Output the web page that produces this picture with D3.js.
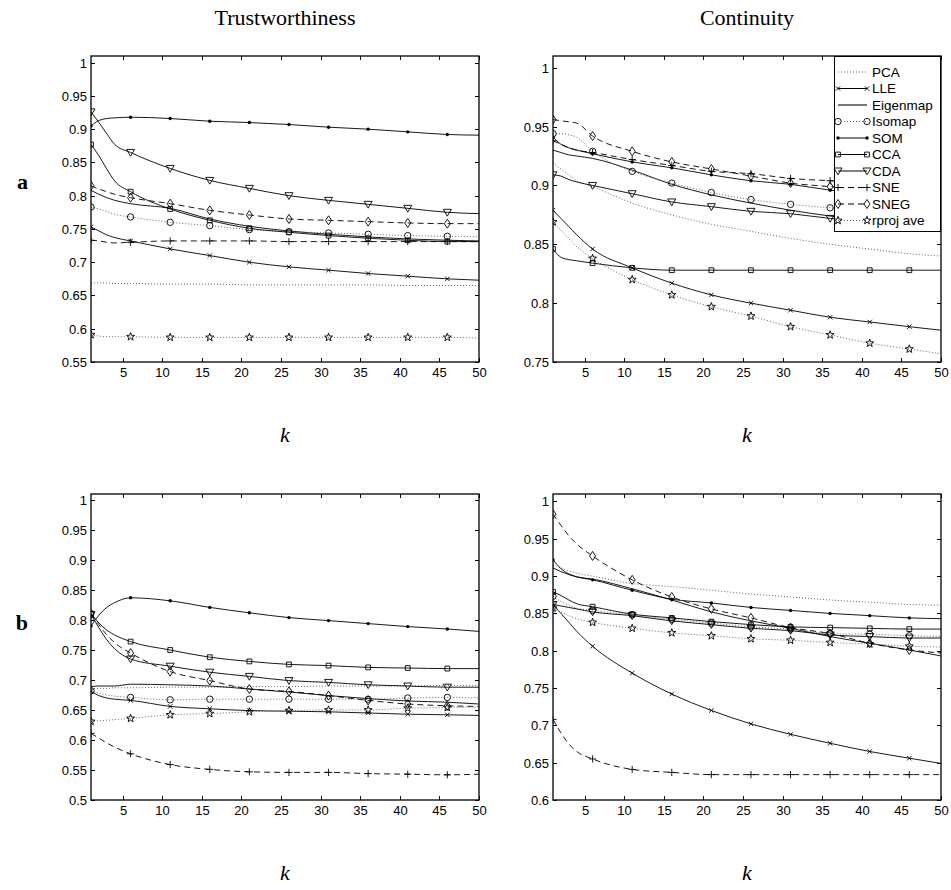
<!DOCTYPE html>
<meta charset="utf-8">
<style>
body { margin: 0; background: #fff; }
.tick-label { font-family: "Liberation Sans", Arial, sans-serif; font-size: 13px; fill: #000; }
.legend-text { font-family: "Liberation Sans", Arial, sans-serif; font-size: 13.5px; fill: #000; }
.title { font-family: "Liberation Serif", "DejaVu Serif", serif; font-size: 22px; fill: #000; }
</style>
<body>
<script src="https://d3js.org/d3.v7.min.js"></script>
<script>

//
// Data
//

var methods = ["PCA", "LLE", "Eigenmap", "Isomap", "SOM", "CCA", "CDA", "SNE", "SNEG", "rproj ave"];
var kValues = [1, 2, 3, 4, 6, 11, 16, 21, 26, 31, 36, 41, 46, 50];
var markerK = [1, 6, 11, 16, 21, 26, 31, 36, 41, 46];
var xTicks = [5, 10, 15, 20, 25, 30, 35, 40, 45, 50];

// rows follow the order of methods
var trustA = [
  [0.669, 0.669, 0.669, 0.668, 0.668, 0.667, 0.667, 0.666, 0.666, 0.666, 0.666, 0.665, 0.665, 0.665],
  [0.753, 0.747, 0.741, 0.737, 0.732, 0.720, 0.710, 0.700, 0.693, 0.688, 0.683, 0.679, 0.675, 0.673],
  [0.808, 0.802, 0.797, 0.793, 0.788, 0.781, 0.765, 0.754, 0.747, 0.742, 0.738, 0.735, 0.733, 0.732],
  [0.783, 0.780, 0.776, 0.772, 0.768, 0.760, 0.755, 0.749, 0.746, 0.744, 0.742, 0.740, 0.739, 0.738],
  [0.905, 0.913, 0.916, 0.917, 0.918, 0.916, 0.912, 0.910, 0.907, 0.903, 0.900, 0.896, 0.892, 0.891],
  [0.877, 0.860, 0.840, 0.822, 0.806, 0.780, 0.763, 0.751, 0.745, 0.740, 0.736, 0.733, 0.731, 0.731],
  [0.926, 0.910, 0.893, 0.877, 0.865, 0.841, 0.823, 0.811, 0.800, 0.793, 0.787, 0.781, 0.775, 0.773],
  [0.733, 0.732, 0.730, 0.729, 0.730, 0.732, 0.732, 0.732, 0.731, 0.731, 0.731, 0.731, 0.731, 0.731],
  [0.815, 0.810, 0.806, 0.802, 0.797, 0.788, 0.778, 0.771, 0.765, 0.763, 0.761, 0.759, 0.758, 0.758],
  [0.591, 0.589, 0.588, 0.588, 0.588, 0.587, 0.587, 0.587, 0.587, 0.587, 0.587, 0.587, 0.587, 0.586]
];

var contA = [
  [0.919, 0.914, 0.909, 0.904, 0.899, 0.885, 0.875, 0.867, 0.861, 0.855, 0.850, 0.846, 0.842, 0.840],
  [0.879, 0.872, 0.865, 0.858, 0.846, 0.830, 0.817, 0.807, 0.800, 0.794, 0.788, 0.784, 0.780, 0.777],
  [0.930, 0.928, 0.926, 0.925, 0.923, 0.913, 0.901, 0.892, 0.885, 0.879, 0.874, 0.870, 0.866, 0.864],
  [0.944, 0.944, 0.943, 0.941, 0.929, 0.912, 0.902, 0.894, 0.888, 0.884, 0.881, 0.878, 0.876, 0.875],
  [0.941, 0.935, 0.932, 0.930, 0.927, 0.920, 0.915, 0.909, 0.904, 0.901, 0.896, 0.893, 0.890, 0.888],
  [0.846, 0.839, 0.837, 0.836, 0.834, 0.830, 0.828, 0.828, 0.828, 0.828, 0.828, 0.828, 0.828, 0.828],
  [0.909, 0.908, 0.905, 0.903, 0.900, 0.893, 0.886, 0.882, 0.878, 0.876, 0.872, 0.870, 0.868, 0.867],
  [0.938, 0.935, 0.932, 0.930, 0.928, 0.922, 0.917, 0.912, 0.910, 0.906, 0.904, 0.902, 0.900, 0.899],
  [0.956, 0.955, 0.954, 0.953, 0.942, 0.929, 0.920, 0.914, 0.908, 0.902, 0.899, 0.896, 0.894, 0.893],
  [0.869, 0.862, 0.855, 0.848, 0.838, 0.820, 0.807, 0.797, 0.789, 0.780, 0.773, 0.766, 0.761, 0.757]
];

var trustB = [
  [0.685, 0.686, 0.686, 0.687, 0.687, 0.688, 0.688, 0.689, 0.689, 0.690, 0.690, 0.690, 0.691, 0.691],
  [0.681, 0.674, 0.670, 0.668, 0.666, 0.656, 0.652, 0.649, 0.648, 0.647, 0.645, 0.643, 0.642, 0.641],
  [0.689, 0.690, 0.690, 0.690, 0.693, 0.692, 0.690, 0.685, 0.680, 0.674, 0.669, 0.665, 0.663, 0.660],
  [0.682, 0.678, 0.675, 0.673, 0.671, 0.667, 0.668, 0.668, 0.668, 0.668, 0.668, 0.670, 0.671, 0.670],
  [0.790, 0.808, 0.821, 0.829, 0.837, 0.832, 0.821, 0.812, 0.804, 0.799, 0.794, 0.789, 0.785, 0.781],
  [0.811, 0.795, 0.783, 0.775, 0.764, 0.750, 0.738, 0.731, 0.726, 0.724, 0.721, 0.720, 0.719, 0.719],
  [0.809, 0.787, 0.767, 0.752, 0.735, 0.723, 0.713, 0.706, 0.699, 0.696, 0.692, 0.690, 0.688, 0.688],
  [0.611, 0.603, 0.595, 0.588, 0.577, 0.559, 0.551, 0.547, 0.546, 0.546, 0.544, 0.543, 0.542, 0.543],
  [0.810, 0.792, 0.775, 0.762, 0.745, 0.714, 0.699, 0.685, 0.681, 0.674, 0.666, 0.660, 0.657, 0.656],
  [0.631, 0.632, 0.633, 0.634, 0.636, 0.642, 0.644, 0.647, 0.649, 0.650, 0.650, 0.653, 0.654, 0.655]
];

var contB = [
  [0.915, 0.911, 0.907, 0.904, 0.900, 0.890, 0.886, 0.881, 0.876, 0.872, 0.868, 0.865, 0.862, 0.861],
  [0.862, 0.850, 0.838, 0.826, 0.806, 0.770, 0.742, 0.720, 0.702, 0.688, 0.676, 0.665, 0.656, 0.649],
  [0.911, 0.906, 0.902, 0.899, 0.896, 0.883, 0.868, 0.852, 0.840, 0.830, 0.819, 0.810, 0.801, 0.793],
  [0.873, 0.866, 0.861, 0.857, 0.854, 0.848, 0.842, 0.837, 0.832, 0.829, 0.823, 0.822, 0.820, 0.819],
  [0.922, 0.910, 0.903, 0.899, 0.895, 0.881, 0.869, 0.864, 0.858, 0.854, 0.850, 0.847, 0.844, 0.843],
  [0.879, 0.874, 0.868, 0.863, 0.859, 0.849, 0.844, 0.839, 0.835, 0.832, 0.831, 0.830, 0.829, 0.829],
  [0.862, 0.860, 0.858, 0.856, 0.852, 0.847, 0.840, 0.835, 0.830, 0.827, 0.821, 0.819, 0.817, 0.817],
  [0.708, 0.690, 0.675, 0.665, 0.655, 0.641, 0.637, 0.634, 0.634, 0.634, 0.634, 0.634, 0.634, 0.634],
  [0.983, 0.968, 0.954, 0.943, 0.927, 0.895, 0.872, 0.856, 0.844, 0.831, 0.823, 0.810, 0.801, 0.797],
  [0.857, 0.852, 0.847, 0.843, 0.838, 0.830, 0.824, 0.820, 0.816, 0.814, 0.811, 0.809, 0.806, 0.805]
];

//
// Styles (per method, same order)
//

var lineDash = ["dot", "solid", "solid", "dot", "solid", "solid", "solid", "dash", "dash", "dot"];
var markerType = ["none", "x", "none", "circle", "dot", "square", "triangle", "plus", "diamond", "star"];

var dashArray = { solid: null, dot: "1,2", dash: "6,4" };
var strokeColor = { solid: "#000", dot: "#666", dash: "#000" };

function starPath(ro, ri) {
  var p = [];
  for (var i = 0; i < 10; i++) {
    var r = i % 2 ? ri : ro;
    var a = -Math.PI / 2 + i * Math.PI / 5;
    p.push([r * Math.cos(a), r * Math.sin(a)]);
  }
  return "M" + p.map(function(d) { return d[0].toFixed(2) + "," + d[1].toFixed(2); }).join("L") + "Z";
}

var markerPath = {
  x: "M-2.2,-2.2L2.2,2.2M-2.2,2.2L2.2,-2.2",
  square: "M-2.4,-2.4H2.4V2.4H-2.4Z",
  triangle: "M-4,-3L4,-3L0,3.8Z",
  plus: "M-3.6,0H3.6M0,-3.6V3.6",
  diamond: "M0,-4.5L3,0L0,4.5L-3,0Z",
  star: starPath(4.2, 1.7)
};

function drawMarker(g, type, x, y) {
  if (type === "none") return;
  if (type === "circle") {
    g.append("circle").attr("cx", x).attr("cy", y).attr("r", 3.2)
      .attr("fill", "none").attr("stroke", "#000").attr("stroke-width", 0.9);
  } else if (type === "dot") {
    g.append("circle").attr("cx", x).attr("cy", y).attr("r", 1.7).attr("fill", "#000");
  } else {
    g.append("path").attr("d", markerPath[type])
      .attr("transform", "translate(" + x + "," + y + ")")
      .attr("fill", "none").attr("stroke", "#000").attr("stroke-width", 0.9);
  }
}

//
// Layout
//

var cols = [[91, 479], [553, 941]];
var rows = [[56, 362], [494, 800]];

var panels = [
  { data: trustA, domain: [0.55, 1.01], col: 0, row: 0 },
  { data: contA,  domain: [0.75, 1.01], col: 1, row: 0 },
  { data: trustB, domain: [0.5, 1.01],  col: 0, row: 1 },
  { data: contB,  domain: [0.6, 1.01],  col: 1, row: 1 }
];

var svg = d3.select("body").append("svg")
    .attr("width", 951)
    .attr("height", 890);

panels.forEach(function(p, pi) {
  var x = d3.scaleLinear().domain([1, 50]).range(cols[p.col]);
  var y = d3.scaleLinear().domain(p.domain).range([rows[p.row][1], rows[p.row][0]]);
  var g = svg.append("g");

  var clipId = "clip" + pi;
  g.append("clipPath").attr("id", clipId).append("rect")
    .attr("x", x(1)).attr("y", y(p.domain[1]))
    .attr("width", x(50) - x(1)).attr("height", y(p.domain[0]) - y(p.domain[1]));

  var line = d3.line()
      .curve(d3.curveMonotoneX)
      .x(function(d) { return x(d[0]); })
      .y(function(d) { return y(d[1]); });

  var plot = g.append("g").attr("clip-path", "url(#" + clipId + ")");

  p.data.forEach(function(vals, mi) {
    var pts = kValues.map(function(k, i) { return [k, vals[i]]; });
    var style = lineDash[mi];
    plot.append("path")
      .attr("d", line(pts))
      .attr("fill", "none")
      .attr("stroke", strokeColor[style])
      .attr("stroke-width", style === "dot" ? 1 : 0.9)
      .attr("stroke-dasharray", dashArray[style]);
    pts.filter(function(d) { return markerK.indexOf(d[0]) >= 0; }).forEach(function(d) {
      drawMarker(plot, markerType[mi], x(d[0]), y(d[1]));
    });
  });

  // y ticks every 0.05
  var nStart = Math.round(p.domain[0] * 20), nEnd = Math.floor(p.domain[1] * 20 + 1e-9);
  var yTicks = d3.range(nStart, nEnd + 1).map(function(n) { return n / 20; });

  var axisG = g.append("g");
  var x0 = x(1), x1 = x(50), y0 = y(p.domain[0]), y1 = y(p.domain[1]);
  var tl = 4;

  yTicks.forEach(function(v) {
    var yy = Math.round(y(v)) + 0.5;
    axisG.append("line").attr("x1", x0).attr("x2", x0 + tl).attr("y1", yy).attr("y2", yy).attr("stroke", "#000");
    axisG.append("line").attr("x1", x1).attr("x2", x1 - tl).attr("y1", yy).attr("y2", yy).attr("stroke", "#000");
    axisG.append("text").attr("class", "tick-label")
      .attr("x", x0 - 4).attr("y", yy).attr("dy", "0.35em")
      .attr("text-anchor", "end")
      .text(String(+v.toFixed(2)));
  });

  xTicks.forEach(function(v) {
    var xx = Math.round(x(v)) + 0.5;
    axisG.append("line").attr("x1", xx).attr("x2", xx).attr("y1", y0).attr("y2", y0 - tl).attr("stroke", "#000");
    axisG.append("line").attr("x1", xx).attr("x2", xx).attr("y1", y1).attr("y2", y1 + tl).attr("stroke", "#000");
    axisG.append("text").attr("class", "tick-label")
      .attr("x", xx).attr("y", y0 + 15)
      .attr("text-anchor", "middle")
      .text(v);
  });

  axisG.append("rect")
    .attr("x", x0).attr("y", y1)
    .attr("width", x1 - x0).attr("height", y0 - y1)
    .attr("fill", "none").attr("stroke", "#000").attr("stroke-width", 1.3);

  // k label
  svg.append("text").attr("class", "title")
    .attr("x", (x0 + x1) / 2).attr("y", y0 + 80)
    .attr("text-anchor", "middle")
    .style("font-style", "italic")
    .text("k");
});

//
// Titles and row labels
//

svg.append("text").attr("class", "title")
  .attr("x", (cols[0][0] + cols[0][1]) / 2).attr("y", 25)
  .attr("text-anchor", "middle").text("Trustworthiness");
svg.append("text").attr("class", "title")
  .attr("x", (cols[1][0] + cols[1][1]) / 2).attr("y", 25)
  .attr("text-anchor", "middle").text("Continuity");

svg.append("text").attr("class", "title")
  .attr("x", 28).attr("y", 189).attr("text-anchor", "end")
  .style("font-weight", "bold").text("a");
svg.append("text").attr("class", "title")
  .attr("x", 28).attr("y", 630).attr("text-anchor", "end")
  .style("font-weight", "bold").text("b");

//
// Legend (top-right panel)
//

var legend = svg.append("g");
var lx0 = 834.5, ly0 = 56.5, lw = 106, lh = 175;
legend.append("rect")
  .attr("x", lx0).attr("y", ly0).attr("width", lw).attr("height", lh)
  .attr("fill", "#fff").attr("stroke", "#000").attr("stroke-width", 1);

methods.forEach(function(m, mi) {
  var yy = 72 + mi * 16.5;
  var style = lineDash[mi];
  legend.append("line")
    .attr("x1", 838).attr("x2", 867).attr("y1", yy).attr("y2", yy)
    .attr("stroke", style === "solid" && markerType[mi] === "none" ? "#555" : strokeColor[style])
    .attr("stroke-width", style === "solid" && markerType[mi] === "none" ? 1.6 : 1)
    .attr("stroke-dasharray", dashArray[style]);
  drawMarker(legend, markerType[mi], 838, yy);
  drawMarker(legend, markerType[mi], 867, yy);
  legend.append("text").attr("class", "legend-text")
    .attr("x", 872).attr("y", yy).attr("dy", "0.36em")
    .text(m);
});

</script>
</body>
